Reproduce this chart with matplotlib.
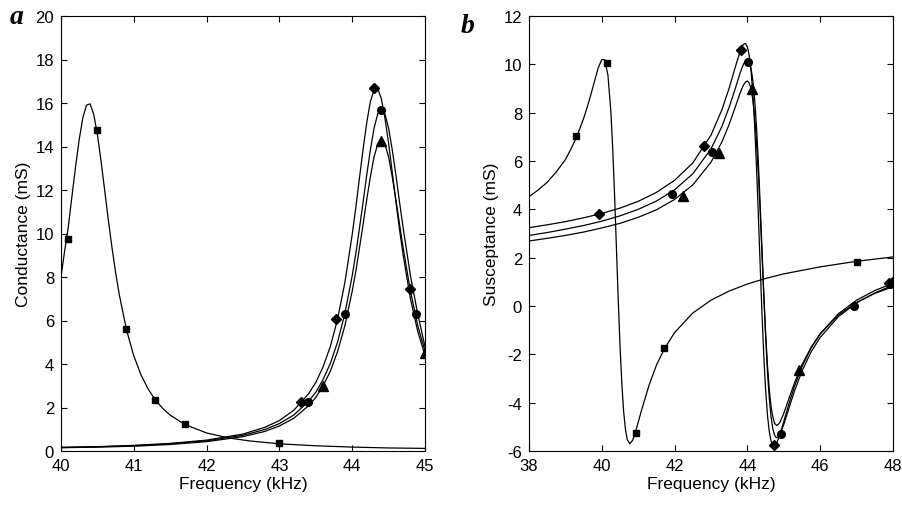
import numpy as np
import matplotlib
matplotlib.use('Agg')
import matplotlib.pyplot as plt

plt.rcParams['font.family'] = ['Liberation Sans', 'DejaVu Sans']
plt.rcParams['axes.unicode_minus'] = False

# ── panel a: conductance (mS) vs frequency (kHz) ──────────────────────────────
fa_sq = [40.0, 40.05, 40.1, 40.15, 40.2, 40.25, 40.3, 40.35, 40.4, 40.45, 40.5,
         40.55, 40.6, 40.65, 40.7, 40.75, 40.8, 40.9, 41.0, 41.1, 41.2, 41.3,
         41.4, 41.5, 41.7, 42.0, 42.3, 42.6, 43.0, 43.5, 44.0, 44.5, 45.0]
ga_sq = [8.0, 9.2, 10.3, 11.7, 13.07, 14.32, 15.32, 15.9, 15.96, 15.47, 14.55,
         13.33, 11.98, 10.63, 9.36, 8.21, 7.2, 5.57, 4.37, 3.49, 2.83, 2.33,
         1.95, 1.65, 1.22, 0.83, 0.60, 0.46, 0.33, 0.24, 0.18, 0.14, 0.12]

fa_r = [40.0, 40.5, 41.0, 41.5, 42.0, 42.5, 42.8, 43.0, 43.2, 43.4, 43.5, 43.6,
        43.7, 43.8, 43.9, 44.0, 44.05, 44.1, 44.15, 44.2, 44.25, 44.3, 44.35,
        44.4, 44.45, 44.5, 44.55, 44.6, 44.65, 44.7, 44.8, 44.9, 45.0]
ga_dia = [0.17, 0.2, 0.26, 0.35, 0.5, 0.78, 1.09, 1.40, 1.88, 2.63, 3.15, 3.87,
          4.81, 6.07, 7.76, 9.95, 11.21, 12.56, 13.89, 15.1, 16.07, 16.6, 16.66,
          16.2, 15.3, 14.15, 12.82, 11.47, 10.18, 9.0, 7.0, 5.5, 4.4]
ga_cir = [0.16, 0.19, 0.24, 0.33, 0.47, 0.72, 0.99, 1.26, 1.66, 2.28, 2.70, 3.29,
          4.03, 5.02, 6.33, 8.06, 9.08, 10.25, 11.45, 12.7, 13.85, 14.84, 15.49,
          15.72, 15.49, 14.84, 13.85, 12.7, 11.45, 10.25, 8.06, 6.3, 4.8]
ga_tri = [0.15, 0.18, 0.22, 0.3, 0.43, 0.66, 0.9, 1.15, 1.51, 2.08, 2.46, 3.0,
          3.67, 4.58, 5.77, 7.35, 8.27, 9.34, 10.43, 11.57, 12.61, 13.52, 14.11,
          14.32, 14.11, 13.52, 12.61, 11.57, 10.43, 9.34, 7.35, 5.77, 4.6]

ma_sq_f = [40.10, 40.50, 40.89, 41.29, 41.70, 43.00]
ma_sq_g = [9.76, 14.76, 5.62, 2.33, 1.23, 0.35]
ma_dia_f = [43.30, 43.78, 44.30, 44.80]
ma_dia_g = [2.25, 6.08, 16.70, 7.43]
ma_cir_f = [43.39, 43.90, 44.40, 44.88]
ma_cir_g = [2.25, 6.31, 15.66, 6.28]
ma_tri_f = [43.60, 44.40, 45.00]
ma_tri_g = [2.99, 14.25, 4.49]

# ── panel b: susceptance (mS) vs frequency (kHz) ──────────────────────────────
fb_sq = [38.0, 38.25, 38.5, 38.75, 39.0, 39.15, 39.3, 39.5, 39.6, 39.7, 39.8,
         39.9, 40.0, 40.08, 40.17, 40.25, 40.3, 40.35, 40.4, 40.45, 40.5, 40.55,
         40.6, 40.65, 40.7, 40.77, 40.85, 40.93, 41.1, 41.3, 41.5, 41.72, 42.0,
         42.5, 43.0, 43.5, 44.0, 44.5, 45.0, 46.0, 47.0, 48.0]
bb_sq = [4.52, 4.8, 5.12, 5.55, 6.06, 6.49, 6.96, 7.76, 8.23, 8.75, 9.30,
         9.85, 10.2, 10.19, 9.54, 8.02, 6.51, 4.63, 2.49, 0.33, -1.63, -3.21,
         -4.37, -5.11, -5.53, -5.70, -5.55, -5.19, -4.27, -3.27, -2.45, -1.77,
         -1.10, -0.29, 0.24, 0.62, 0.91, 1.14, 1.33, 1.62, 1.85, 2.03]

fb_r = [38.0, 38.5, 39.0, 39.5, 40.0, 40.5, 41.0, 41.5, 42.0, 42.5, 43.0, 43.3,
        43.5, 43.65, 43.8, 43.85, 43.9, 43.95, 44.0, 44.05, 44.1, 44.15, 44.2,
        44.25, 44.3, 44.35, 44.4, 44.45, 44.5, 44.55, 44.6, 44.65, 44.7, 44.75,
        44.8, 44.85, 44.9, 45.0, 45.15, 45.3, 45.5, 45.75, 46.0, 46.5, 47.0,
        47.5, 48.0]
bb_dia = [3.24, 3.36, 3.49, 3.65, 3.83, 4.05, 4.33, 4.70, 5.20, 5.92, 7.07, 8.12,
          9.02, 9.80, 10.54, 10.73, 10.84, 10.86, 10.72, 10.37, 9.74, 8.78, 7.44,
          5.75, 3.78, 1.71, -0.29, -2.05, -3.46, -4.50, -5.19, -5.59, -5.77,
          -5.78, -5.68, -5.50, -5.28, -4.78, -4.00, -3.29, -2.51, -1.74, -1.15,
          -0.32, 0.24, 0.64, 0.94]
bb_cir = [2.92, 3.04, 3.18, 3.33, 3.51, 3.73, 4.00, 4.34, 4.81, 5.47, 6.50, 7.43,
          8.23, 8.92, 9.64, 9.85, 10.03, 10.15, 10.19, 10.10, 9.83, 9.33, 8.54,
          7.42, 5.98, 4.25, 2.37, 0.48, -1.24, -2.69, -3.80, -4.59, -5.09, -5.36,
          -5.45, -5.41, -5.30, -4.90, -4.19, -3.49, -2.69, -1.90, -1.30, -0.44,
          0.13, 0.54, 0.86]
bb_tri = [2.69, 2.80, 2.92, 3.06, 3.23, 3.42, 3.67, 3.98, 4.41, 5.01, 5.95, 6.79,
          7.52, 8.16, 8.81, 9.00, 9.16, 9.27, 9.31, 9.22, 8.98, 8.52, 7.81, 6.79,
          5.47, 3.90, 2.18, 0.47, -1.10, -2.42, -3.44, -4.16, -4.61, -4.86, -4.94,
          -4.90, -4.80, -4.44, -3.79, -3.16, -2.43, -1.71, -1.15, -0.37, 0.15,
          0.52, 0.80]

mb_sq_f = [39.30, 40.13, 40.93, 41.72, 47.01]
mb_sq_b = [7.03, 10.07, -5.24, -1.75, 1.83]
mb_dia_f = [39.92, 42.82, 43.82, 44.72, 47.90]
mb_dia_b = [3.82, 6.62, 10.60, -5.75, 0.97]
mb_cir_f = [41.94, 43.02, 44.03, 44.92, 46.92, 47.93]
mb_cir_b = [4.65, 6.37, 10.11, -5.31, 0.0, 0.90]
mb_tri_f = [42.24, 43.23, 44.12, 45.43, 47.97]
mb_tri_b = [4.55, 6.34, 8.97, -2.66, 1.0]

# ── plot ──────────────────────────────────────────────────────────────────────
LW = 0.9
MK = dict(linestyle='none', color='black')


def style_axes(ax):
    ax.tick_params(direction='in', top=True, right=True, length=4,
                   width=0.8, labelsize=12, pad=5)
    for sp in ax.spines.values():
        sp.set_linewidth(0.8)


fig = plt.figure(figsize=(9.03, 5.06), dpi=100)

ax = fig.add_axes([61 / 903, 1 - 452 / 506, 364 / 903, 435 / 506])
ax.plot(fa_sq, ga_sq, 'k-', lw=LW)
ax.plot(fa_r, ga_dia, 'k-', lw=LW)
ax.plot(fa_r, ga_cir, 'k-', lw=LW)
ax.plot(fa_r, ga_tri, 'k-', lw=LW)
ax.plot(ma_sq_f, ma_sq_g, marker='s', markersize=4.5, **MK)
ax.plot(ma_dia_f, ma_dia_g, marker='D', markersize=5.5, **MK)
ax.plot(ma_cir_f, ma_cir_g, marker='o', markersize=5.5, **MK)
ax.plot(ma_tri_f, ma_tri_g, marker='^', markersize=7.5, **MK)
ax.set_xlim(40, 45)
ax.set_ylim(0, 20)
ax.set_xticks(range(40, 46))
ax.set_yticks(range(0, 21, 2))
ax.set_xlabel('Frequency (kHz)', fontsize=12.5, labelpad=2)
ax.set_ylabel('Conductance (mS)', fontsize=12.5, labelpad=3)
style_axes(ax)

ax = fig.add_axes([529 / 903, 1 - 452 / 506, 364 / 903, 435 / 506])
ax.plot(fb_sq, bb_sq, 'k-', lw=LW)
ax.plot(fb_r, bb_dia, 'k-', lw=LW)
ax.plot(fb_r, bb_cir, 'k-', lw=LW)
ax.plot(fb_r, bb_tri, 'k-', lw=LW)
ax.plot(mb_sq_f, mb_sq_b, marker='s', markersize=4.5, **MK)
ax.plot(mb_dia_f, mb_dia_b, marker='D', markersize=5.5, **MK)
ax.plot(mb_cir_f, mb_cir_b, marker='o', markersize=5.5, **MK)
ax.plot(mb_tri_f, mb_tri_b, marker='^', markersize=7.5, **MK)
ax.set_xlim(38, 48)
ax.set_ylim(-6, 12)
ax.set_xticks(range(38, 49, 2))
ax.set_yticks(range(-6, 13, 2))
ax.set_xlabel('Frequency (kHz)', fontsize=12.5, labelpad=2)
ax.set_ylabel('Susceptance (mS)', fontsize=12.5, labelpad=3)
style_axes(ax)

lab = dict(fontsize=20, fontweight='bold', fontstyle='italic',
           family=['Liberation Serif', 'DejaVu Serif'])
fig.text(10 / 903, 1 - 24 / 506, 'a', **lab)
fig.text(461 / 903, 1 - 33 / 506, 'b', **lab)

fig.savefig('out.png', dpi=100)
